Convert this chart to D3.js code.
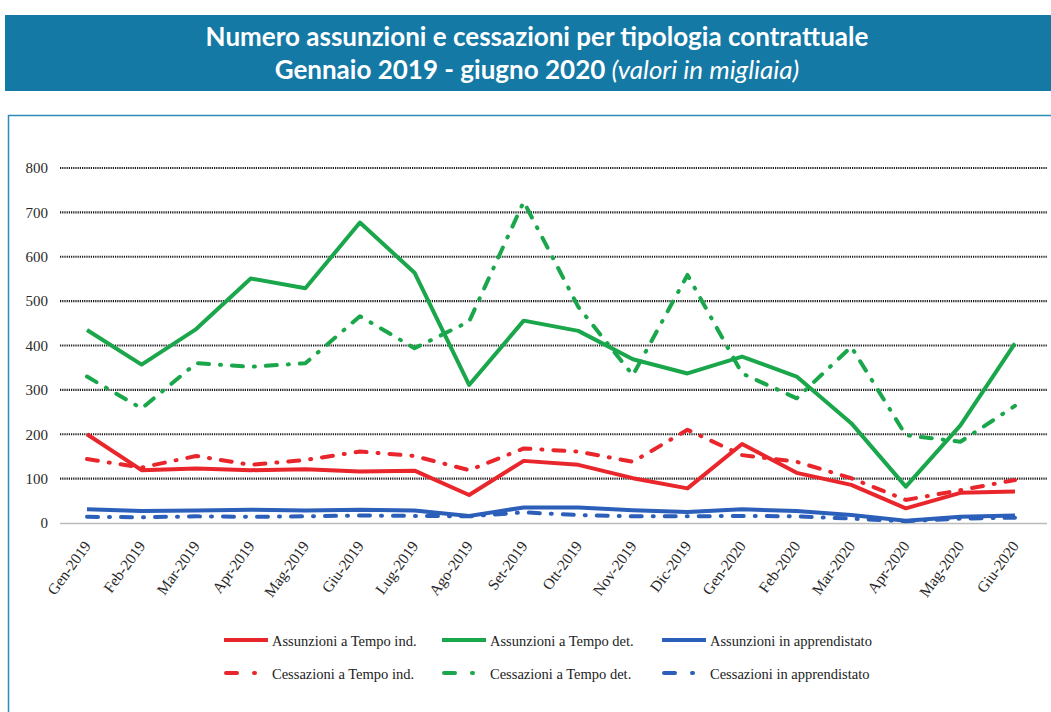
<!DOCTYPE html>
<html>
<head>
<meta charset="utf-8">
<script src="https://cdn.jsdelivr.net/npm/d3@7"></script>
<style>
  body { margin: 0; background: #fff; }
  svg { display: block; }
</style>
</head>
<body>
<div id="chart"></div>
<script>
// months on the x axis
var months = ['Gen-2019','Feb-2019','Mar-2019','Apr-2019','Mag-2019','Giu-2019','Lug-2019','Ago-2019','Set-2019',
              'Ott-2019','Nov-2019','Dic-2019','Gen-2020','Feb-2020','Mar-2020','Apr-2020','Mag-2020','Giu-2020'];

// values in thousands
var assIndet   = [200, 119, 123, 119, 121, 116, 118, 63, 140, 131, 101, 78, 178, 113, 86, 33, 68, 71];
var assDet     = [435, 357, 437, 551, 529, 677, 564, 311, 456, 433, 369, 337, 375, 330, 225, 82, 220, 405];
var assAppr    = [31, 27, 28, 30, 28, 30, 28, 16, 35, 35, 29, 25, 31, 27, 18, 5, 14, 17];
var cesIndet   = [144, 125, 151, 131, 142, 161, 151, 119, 168, 161, 138, 210, 153, 138, 101, 52, 74, 97];
var cesDet     = [330, 258, 360, 352, 360, 466, 394, 454, 724, 487, 333, 559, 337, 281, 397, 198, 183, 264];
var cesAppr    = [14, 13, 15, 14, 15, 17, 16, 15, 24, 18, 15, 15, 16, 15, 10, 4, 10, 12];

var yTicks = [0, 100, 200, 300, 400, 500, 600, 700, 800];

var series = [
  { name: 'Assunzioni a Tempo ind.',     values: assIndet, color: '#e8262b', dashed: false },
  { name: 'Assunzioni a Tempo det.',     values: assDet,   color: '#1aa64b', dashed: false },
  { name: 'Assunzioni in apprendistato', values: assAppr,  color: '#2b5fb9', dashed: false },
  { name: 'Cessazioni a Tempo ind.',     values: cesIndet, color: '#e8262b', dashed: true },
  { name: 'Cessazioni a Tempo det.',     values: cesDet,   color: '#1aa64b', dashed: true },
  { name: 'Cessazioni in apprendistato', values: cesAppr,  color: '#2b5fb9', dashed: true }
];

var width = 1051, height = 712;
var dash = '11,11,1,11';

var svg = d3.select('#chart').append('svg')
  .attr('width', width)
  .attr('height', height);

// title banner
svg.append('rect')
  .attr('x', 5).attr('y', 15)
  .attr('width', width - 5).attr('height', 76)
  .attr('fill', '#1579a6');

var title = svg.append('text')
  .attr('text-anchor', 'middle')
  .attr('fill', '#fff')
  .style('font-family', 'Lato, sans-serif')
  .style('font-size', '26px')
  .style('font-weight', 'bold');
title.append('tspan').attr('x', 537).attr('y', 46)
  .text('Numero assunzioni e cessazioni per tipologia contrattuale');
var t2 = title.append('tspan').attr('x', 537).attr('y', 79);
t2.append('tspan').text('Gennaio 2019 - giugno 2020 ');
t2.append('tspan').style('font-style', 'italic').style('font-weight', 'normal').text('(valori in migliaia)');

// chart frame
svg.append('rect')
  .attr('x', 8.5).attr('y', 115.5)
  .attr('width', width + 10).attr('height', height)
  .attr('fill', 'none')
  .attr('stroke', '#2d8cb8')
  .attr('stroke-width', 1.5);

// scales
var x = d3.scalePoint().domain(months).range([87, 1015]);
var y = d3.scaleLinear().domain([0, 800]).range([523, 168]);

// gridlines
svg.append('g')
  .selectAll('line')
  .data(yTicks.slice(1))
  .join('line')
  .attr('x1', 60).attr('x2', 1047)
  .attr('y1', function(d) { return y(d); })
  .attr('y2', function(d) { return y(d); })
  .attr('stroke', '#1a1a1a')
  .attr('stroke-width', 2.2)
  .attr('stroke-dasharray', '1.2,1');

// y axis labels
var y_axis = d3.axisLeft(y).tickValues(yTicks).tickSize(0).tickPadding(0);
var gy = svg.append('g')
  .attr('transform', 'translate(48,0)')
  .call(y_axis);
gy.select('.domain').remove();
gy.selectAll('text')
  .style('font-family', '"Liberation Serif", serif')
  .style('font-size', '15px')
  .attr('fill', '#2a2a2a');

// x axis
var x_axis = d3.axisBottom(x).tickSize(0).tickPadding(0);
var gx = svg.append('g')
  .attr('transform', 'translate(0,' + y(0) + ')')
  .call(x_axis);
gx.select('.domain').remove();
gx.selectAll('text')
  .style('font-family', '"Liberation Serif", serif')
  .style('font-size', '15.5px')
  .attr('fill', '#2a2a2a')
  .attr('text-anchor', 'end')
  .attr('dy', 0)
  .attr('transform', 'translate(4,23) rotate(-54)');

svg.append('line')
  .attr('x1', 60).attr('x2', 1047)
  .attr('y1', y(0) + 0.5).attr('y2', y(0) + 0.5)
  .attr('stroke', '#bbb')
  .attr('stroke-width', 1.5);

// lines
var line = d3.line()
  .x(function(d, i) { return x(months[i]); })
  .y(function(d) { return y(d); });

svg.append('g')
  .selectAll('path')
  .data(series.slice().reverse())
  .join('path')
  .attr('d', function(s) { return line(s.values); })
  .attr('fill', 'none')
  .attr('stroke', function(s) { return s.color; })
  .attr('stroke-width', 4)
  .attr('stroke-linecap', function(s) { return s.dashed ? 'round' : 'butt'; })
  .attr('stroke-linejoin', 'round')
  .attr('stroke-dasharray', function(s) { return s.dashed ? dash : null; });

// legend
var legX = [224, 442, 662];
var legY = [640, 673];
var leg = svg.append('g')
  .selectAll('g')
  .data(series)
  .join('g')
  .attr('transform', function(s, i) { return 'translate(' + legX[i % 3] + ',' + legY[Math.floor(i / 3)] + ')'; });

leg.append('line')
  .attr('x1', function(s) { return s.dashed ? 2 : 0; })
  .attr('x2', function(s) { return s.dashed ? 34 : 44; })
  .attr('stroke', function(s) { return s.color; })
  .attr('stroke-width', 4)
  .attr('stroke-linecap', function(s) { return s.dashed ? 'round' : 'butt'; })
  .attr('stroke-dasharray', function(s) { return s.dashed ? '11,17,1,20' : null; });

leg.append('text')
  .attr('x', 48)
  .attr('y', 6)
  .style('font-family', '"Liberation Serif", serif')
  .style('font-size', '14.5px')
  .attr('fill', '#222')
  .text(function(s) { return s.name; });
</script>
</body>
</html>
